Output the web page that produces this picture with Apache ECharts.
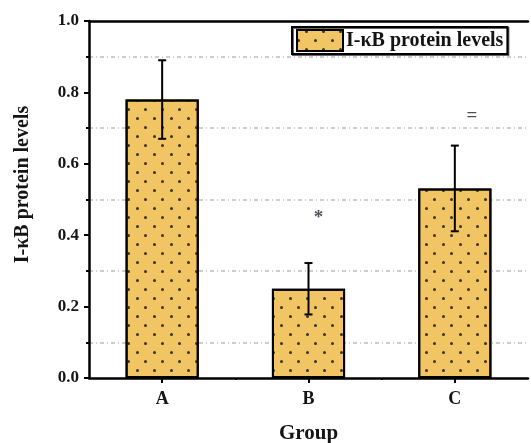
<!DOCTYPE html>
<html>
<head>
<meta charset="utf-8">
<script src="https://cdn.jsdelivr.net/npm/echarts@6/dist/echarts.min.js"></script>
<style>html,body{margin:0;padding:0;background:#fff}#c{width:531px;height:443px}</style>
</head>
<body>
<div id="c"></div>
<script>
var categories = ['A', 'B', 'C'];
var values = [0.78, 0.25, 0.531];
var errors = [0.11, 0.072, 0.12];
var markTexts = ['*', '='];
var markCats = ['B', 'C'];
var markValues = [0.448, 0.735];
var yTicks = [0, 0.2, 0.4, 0.6, 0.8, 1.0];
var seriesName = 'I-\u03baB protein levels';

var FONT = "'Liberation Serif', 'Times New Roman', serif";
var TXT = '#141414';
var fillColor = '#F2C564';
var dotDecal = {
  symbol: 'circle',
  symbolSize: 1,
  color: '#3b3326',
  backgroundColor: null,
  dashArrayX: [[2.5, 13.2], [0, 7.85, 2.5, 5.35]],
  dashArrayY: [2.5, 5.2]
};

var chart = echarts.init(document.getElementById('c'), null, {renderer: 'canvas'});

var errData = categories.map(function (c, i) { return [i, values[i] - errors[i], values[i] + errors[i]]; });
var markData = markCats.map(function (c, i) {
  return {
    value: [c, markValues[i]],
    label: {formatter: markTexts[i], offset: i === 0 ? [10, 0] : [17, 0]}
  };
});

chart.setOption({
  animation: false,
  backgroundColor: '#fff',
  grid: {left: 89, right: 3, top: 21, bottom: 65, containLabel: false, outerBoundsMode: 'none'},
  legend: {
    left: 292, top: 27,
    orient: 'horizontal',
    itemWidth: 46, itemHeight: 21,
    padding: [2, 4, 2, 4],
    borderColor: '#000', borderWidth: 2,
    backgroundColor: '#fff',
    shadowColor: 'rgba(0,0,0,0.6)', shadowOffsetX: 1, shadowOffsetY: 1, shadowBlur: 0,
    textStyle: {fontFamily: FONT, fontWeight: 'bold', fontSize: 20, color: TXT, padding: [0, 0, 0, -2]},
    data: [{name: seriesName, icon: 'rect', itemStyle: {color: fillColor, borderColor: '#000', borderWidth: 2, decal: dotDecal}}]
  },
  xAxis: [{
    type: 'category',
    data: categories,
    position: 'bottom',
    name: 'Group',
    nameLocation: 'middle',
    nameGap: 45,
    nameTextStyle: {fontFamily: FONT, fontWeight: 'bold', fontSize: 21, color: TXT},
    axisLine: {show: true, lineStyle: {color: '#000', width: 2.5}},
    axisTick: {show: true, alignWithLabel: true, length: 5, lineStyle: {color: '#000', width: 2}},
    axisLabel: {fontFamily: FONT, fontWeight: 'bold', fontSize: 18, color: TXT, margin: 12},
    splitLine: {show: false}
  }, {
    type: 'value',
    min: 0.5, max: 3.5,
    position: 'bottom',
    axisLine: {show: false},
    axisTick: {show: true, customValues: [1.5, 2.5], length: 2, lineStyle: {color: '#000', width: 2}},
    axisLabel: {show: false},
    splitLine: {show: false}
  }, {
    type: 'category',
    data: categories,
    position: 'top',
    axisLine: {show: true, onZero: false, lineStyle: {color: '#000', width: 2.5}},
    axisTick: {show: false},
    axisLabel: {show: false},
    splitLine: {show: false}
  }],
  yAxis: {
    type: 'value',
    min: 0, max: 1, interval: 0.2,
    name: seriesName,
    nameLocation: 'middle',
    nameGap: 56,
    nameTextStyle: {fontFamily: FONT, fontWeight: 'bold', fontSize: 20, color: TXT, padding: [0, 0, 0, 30]},
    axisLine: {show: true, lineStyle: {color: '#000', width: 2.5}},
    axisTick: {show: true, length: 5, lineStyle: {color: '#000', width: 2}},
    minorTick: {show: true, splitNumber: 2, length: 3, lineStyle: {color: '#000', width: 2}},
    axisLabel: {fontFamily: FONT, fontWeight: 'bold', fontSize: 17, color: TXT, margin: 10,
      formatter: function (v) { return v.toFixed(1); }},
    splitLine: {show: false},
    minorSplitLine: {show: true, lineStyle: {color: '#bdbdbd', width: 1.5, type: [4, 3, 1, 3]}}
  },
  series: [{
    name: seriesName,
    type: 'bar',
    data: values,
    barWidth: '50%',
    itemStyle: {color: fillColor, borderColor: '#000', borderWidth: 2, decal: dotDecal},
    z: 2
  }, {
    name: 'err',
    type: 'custom',
    data: errData,
    z: 5,
    renderItem: function (params, api) {
      var x = api.coord([api.value(0), 0])[0];
      var lo = api.coord([api.value(0), api.value(1)])[1];
      var hi = api.coord([api.value(0), api.value(2)])[1];
      var cap = 4;
      var st = {stroke: '#000', lineWidth: 2};
      return {
        type: 'group',
        children: [
          {type: 'line', shape: {x1: x, y1: lo, x2: x, y2: hi}, style: st},
          {type: 'line', shape: {x1: x - cap, y1: hi, x2: x + cap, y2: hi}, style: st},
          {type: 'line', shape: {x1: x - cap, y1: lo, x2: x + cap, y2: lo}, style: st}
        ]
      };
    }
  }, {
    name: 'marks',
    type: 'scatter',
    symbolSize: 0,
    data: markData,
    z: 6,
    label: {show: true, position: 'inside', fontFamily: FONT, fontWeight: 'bold', fontSize: 19, color: '#1e2230'}
  }]
});
</script>
</body>
</html>
